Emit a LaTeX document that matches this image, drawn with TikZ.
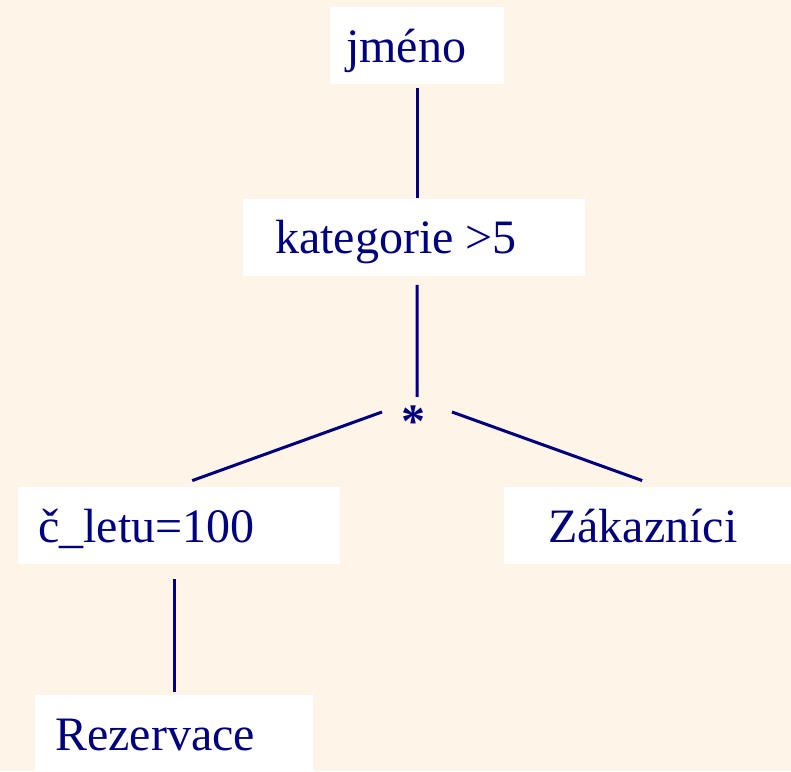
\documentclass[tikz,border=0pt]{standalone}
\usepackage{fontspec}
\setmainfont{Liberation Serif}
\usetikzlibrary{calc}
\definecolor{paper}{HTML}{FFF4E8}
\definecolor{ink}{HTML}{000080}
\begin{document}
\begin{tikzpicture}[x=1pt,y=1pt,
  box/.style={fill=white,draw=none,inner sep=0pt,anchor=south west},
  lbl/.style={text=ink,inner sep=0pt,anchor=base west,font=\fontsize{48}{57}\selectfont},
  link/.style={draw=ink,line width=3pt}]
% page background
\fill[paper] (0,0) rectangle (791,771);
\useasboundingbox (0,0) rectangle (791,771);

% white boxes of the operator tree
\node[box,minimum width=174pt,minimum height=77pt] (jmeno) at (330,687) {};
\node[box,minimum width=342pt,minimum height=77pt] (kat) at (243,495) {};
\node[box,minimum width=322pt,minimum height=77pt] (cletu) at (18,207) {};
\node[box,minimum width=287pt,minimum height=77pt] (zak) at (504,207) {};
\node[box,minimum width=278pt,minimum height=76pt] (rez) at (35,0) {};

% labels
\node[lbl] (jmeno-t) at (346,708) {jméno};
\node[lbl] (kat-t) at (275,517) {kategorie >5};
\node[lbl] (cletu-t) at (38,228.5) {č\_letu=100};
\node[lbl] (zak-t) at (548,228.5) {Zákazníci};
\node[lbl] (rez-t) at (55,21) {Rezervace};
\node[lbl,anchor=base,font=\fontsize{48}{57}\selectfont\bfseries] (star) at (413,333) {*};

% connectors (kept clear of the boxes and of the join symbol)
\draw[link] ([yshift=-4pt]jmeno.south) -- ([xshift=3pt,yshift=1pt]kat.north);
\draw[link] ([xshift=3pt,yshift=-9pt]kat.south) -- ([xshift=4pt,yshift=41pt]star.base);
\draw[link] ([xshift=-31pt,yshift=26pt]star.base) -- ([xshift=13pt,yshift=6pt]cletu.north);
\draw[link] ([xshift=39pt,yshift=26pt]star.base) -- ([xshift=-5.5pt,yshift=6pt]zak.north);
\draw[link] ([xshift=-5pt,yshift=-15pt]cletu.south) -- ([yshift=3pt]rez.north);
\end{tikzpicture}
\end{document}
